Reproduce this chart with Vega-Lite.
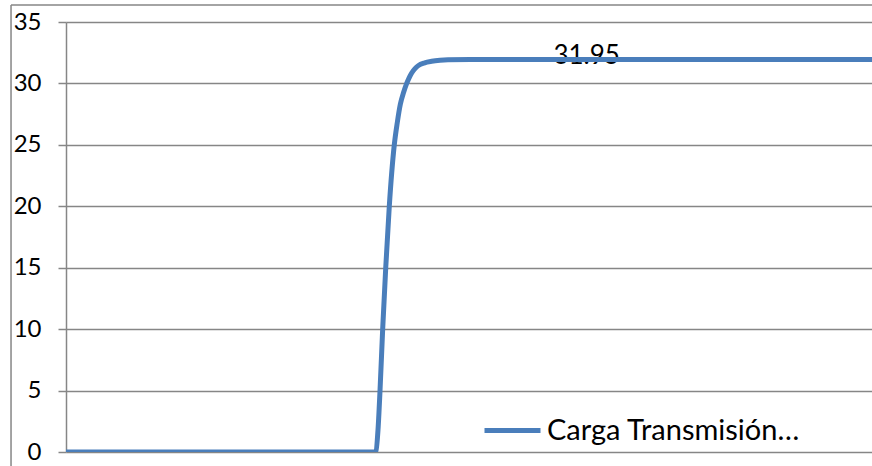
{
  "$schema": "https://vega.github.io/schema/vega-lite/v6.json",
  "width": 806,
  "height": 430,
  "autosize": {"type": "none"},
  "padding": {"left": 66, "top": 22, "right": 0, "bottom": 14},
  "background": "white",
  "config": {"view": {"stroke": null}, "font": "Lato"},
  "datasets": {
    "series": [
      {"t": 0, "value": 0, "series": "Carga Transmisión…"},
      {"t": 20, "value": 0, "series": "Carga Transmisión…"},
      {"t": 38.2, "value": 0, "series": "Carga Transmisión…"},
      {"t": 38.46, "value": 0.1, "series": "Carga Transmisión…"},
      {"t": 38.71, "value": 1.8, "series": "Carga Transmisión…"},
      {"t": 38.96, "value": 5, "series": "Carga Transmisión…"},
      {"t": 39.29, "value": 10, "series": "Carga Transmisión…"},
      {"t": 39.67, "value": 15, "series": "Carga Transmisión…"},
      {"t": 40.11, "value": 20, "series": "Carga Transmisión…"},
      {"t": 40.73, "value": 25, "series": "Carga Transmisión…"},
      {"t": 41.1, "value": 26.8, "series": "Carga Transmisión…"},
      {"t": 41.48, "value": 28.3, "series": "Carga Transmisión…"},
      {"t": 41.9, "value": 29.3, "series": "Carga Transmisión…"},
      {"t": 42.27, "value": 30, "series": "Carga Transmisión…"},
      {"t": 42.6, "value": 30.5, "series": "Carga Transmisión…"},
      {"t": 42.89, "value": 30.85, "series": "Carga Transmisión…"},
      {"t": 43.3, "value": 31.2, "series": "Carga Transmisión…"},
      {"t": 43.71, "value": 31.45, "series": "Carga Transmisión…"},
      {"t": 44.5, "value": 31.68, "series": "Carga Transmisión…"},
      {"t": 45.37, "value": 31.8, "series": "Carga Transmisión…"},
      {"t": 46.4, "value": 31.88, "series": "Carga Transmisión…"},
      {"t": 47.39, "value": 31.92, "series": "Carga Transmisión…"},
      {"t": 50.12, "value": 31.95, "series": "Carga Transmisión…"},
      {"t": 75, "value": 31.95, "series": "Carga Transmisión…"},
      {"t": 100, "value": 31.95, "series": "Carga Transmisión…"}
    ],
    "label": [
      {"t": 64.6, "value": 31.95}
    ]
  },
  "layer": [
    {
      "data": {"name": "label"},
      "mark": {"type": "text", "font": "Lato", "fontSize": 26, "align": "center", "baseline": "alphabetic", "dy": 5, "color": "#000000"},
      "encoding": {
        "x": {"field": "t", "type": "quantitative", "scale": {"domain": [0, 100], "nice": false, "zero": false}, "axis": null},
        "y": {"field": "value", "type": "quantitative", "scale": {"domain": [0, 35], "nice": false}},
        "text": {"field": "value", "type": "quantitative", "format": ".2f"}
      }
    },
    {
      "data": {"name": "series"},
      "mark": {"type": "line", "strokeWidth": 5, "interpolate": "monotone", "clip": true},
      "encoding": {
        "x": {"field": "t", "type": "quantitative", "scale": {"domain": [0, 100], "nice": false, "zero": false}, "axis": null},
        "y": {
          "field": "value", "type": "quantitative",
          "scale": {"domain": [0, 35], "nice": false},
          "axis": {
            "title": null, "values": [0, 5, 10, 15, 20, 25, 30, 35],
            "grid": true, "gridColor": "#868686", "gridWidth": 1.5,
            "domainColor": "#868686", "domainWidth": 1.5,
            "tickColor": "#868686", "tickWidth": 1.5, "tickSize": 8,
            "labelFont": "Lato", "labelFontSize": 24, "labelColor": "#000000",
            "labelPadding": 17
          }
        },
        "color": {
          "field": "series", "type": "nominal",
          "scale": {"range": ["#4A7EBB"]},
          "legend": {
            "title": null, "orient": "none", "legendX": 416, "legendY": 378,
            "symbolType": "stroke", "symbolSize": 3136, "symbolStrokeWidth": 5,
            "labelFont": "Lato", "labelFontSize": 29, "labelColor": "#000000",
            "labelLimit": 400, "labelOffset": 4
          }
        }
      }
    },
    {
      "data": {"values": [{}]},
      "mark": {"type": "rule", "color": "#868686", "strokeWidth": 1.5, "clip": false},
      "encoding": {
        "x": {"datum": -6.82},
        "y": {"datum": 36.38},
        "y2": {"datum": -1.3}
      }
    },
    {
      "data": {"values": [{}]},
      "mark": {"type": "rule", "color": "#868686", "strokeWidth": 1.5, "clip": false},
      "encoding": {
        "x": {"datum": -6.82},
        "x2": {"datum": 101},
        "y": {"datum": 36.38}
      }
    }
  ]
}
